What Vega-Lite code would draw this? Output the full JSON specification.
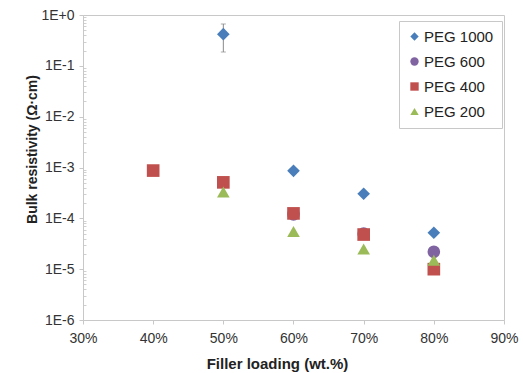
{
  "$schema": "https://vega.github.io/schema/vega-lite/v6.json",
  "width": 421,
  "height": 305,
  "autosize": {"type": "none"},
  "padding": {"left": 83, "top": 15, "right": 19, "bottom": 53},
  "background": "white",
  "config": {
    "font": "Liberation Sans",
    "view": {"stroke": "#c8c8c8", "strokeWidth": 1}
  },
  "datasets": {
    "pts": [
      {"load": 0.5, "res": 0.42, "series": "PEG 1000", "lo": 0.187, "hi": 0.665},
      {"load": 0.6, "res": 0.00086, "series": "PEG 1000"},
      {"load": 0.7, "res": 0.000304, "series": "PEG 1000"},
      {"load": 0.8, "res": 0.000052, "series": "PEG 1000"},
      {"load": 0.6, "res": 0.00012, "series": "PEG 600"},
      {"load": 0.7, "res": 0.00005, "series": "PEG 600"},
      {"load": 0.8, "res": 0.000022, "series": "PEG 600"},
      {"load": 0.4, "res": 0.00087, "series": "PEG 400", "lo": 0.00074, "hi": 0.00102},
      {"load": 0.5, "res": 0.00051, "series": "PEG 400"},
      {"load": 0.6, "res": 0.000125, "series": "PEG 400"},
      {"load": 0.7, "res": 0.000048, "series": "PEG 400"},
      {"load": 0.8, "res": 0.00001, "series": "PEG 400"},
      {"load": 0.5, "res": 0.00033, "series": "PEG 200"},
      {"load": 0.6, "res": 0.000055, "series": "PEG 200"},
      {"load": 0.7, "res": 0.000025, "series": "PEG 200"},
      {"load": 0.8, "res": 0.000015, "series": "PEG 200"}
    ]
  },
  "data": {"name": "pts"},
  "resolve": {"axis": {"y": "independent"}},
  "layer": [
    {
      "transform": [{"filter": "isValid(datum.lo)"}],
      "mark": {"type": "rule", "color": "#8a8a8a", "strokeWidth": 1},
      "encoding": {
        "x": {"field": "load", "type": "quantitative", "scale": {"domain": [0.3, 0.9]}},
        "y": {
          "field": "lo", "type": "quantitative",
          "scale": {"type": "log", "domain": [0.000001, 1]},
          "axis": {
            "orient": "left",
            "values": [2e-6,3e-6,4e-6,5e-6,6e-6,7e-6,8e-6,9e-6,2e-5,3e-5,4e-5,5e-5,6e-5,7e-5,8e-5,9e-5,2e-4,3e-4,4e-4,5e-4,6e-4,7e-4,8e-4,9e-4,2e-3,3e-3,4e-3,5e-3,6e-3,7e-3,8e-3,9e-3,2e-2,3e-2,4e-2,5e-2,6e-2,7e-2,8e-2,9e-2,0.2,0.3,0.4,0.5,0.6,0.7,0.8,0.9],
            "labels": false, "domain": false, "grid": false, "title": null,
            "tickSize": -3, "tickColor": "#d0d0d0", "tickWidth": 1
          }
        },
        "y2": {"field": "hi"}
      }
    },
    {
      "transform": [{"filter": "isValid(datum.lo)"}],
      "mark": {"type": "tick", "color": "#8a8a8a", "size": 5, "thickness": 1, "orient": "horizontal"},
      "encoding": {
        "x": {"field": "load", "type": "quantitative"},
        "y": {"field": "hi", "type": "quantitative", "axis": null}
      }
    },
    {
      "transform": [{"filter": "isValid(datum.lo)"}],
      "mark": {"type": "tick", "color": "#8a8a8a", "size": 5, "thickness": 1, "orient": "horizontal"},
      "encoding": {
        "x": {"field": "load", "type": "quantitative"},
        "y": {"field": "lo", "type": "quantitative", "axis": null}
      }
    },
    {
      "mark": {"type": "point", "filled": true, "opacity": 1, "size": 160},
      "encoding": {
        "x": {
          "field": "load", "type": "quantitative",
          "axis": {
            "values": [0.3, 0.4, 0.5, 0.6, 0.7, 0.8, 0.9],
            "format": ".0%",
            "title": "Filler loading (wt.%)",
            "titleFontSize": 15, "titleFontWeight": "bold", "titleColor": "#222",
            "titleX": 194, "titleY": 43, "titleBaseline": "middle",
            "labelFontSize": 14, "labelColor": "#333", "labelPadding": 7,
            "tickSize": 4, "tickColor": "#c8c8c8", "domainColor": "#c8c8c8",
            "grid": false, "labelFlush": false
          }
        },
        "y": {
          "field": "res", "type": "quantitative",
          "axis": {
            "orient": "left",
            "values": [0.000001, 0.00001, 0.0001, 0.001, 0.01, 0.1, 1],
            "labelExpr": "'1E' + (round(log(datum.value)/LN10) >= 0 ? '+' : '') + round(log(datum.value)/LN10)",
            "title": "Bulk resistivity (Ω·cm)",
            "titleFontSize": 14, "titleFontWeight": "bold", "titleColor": "#222",
            "titleX": -51, "titleY": 134, "titleBaseline": "middle", "titleAngle": -90, "titleAlign": "center",
            "labelFontSize": 14, "labelColor": "#333", "labelPadding": 5,
            "tickSize": 4, "tickColor": "#c8c8c8", "domainColor": "#c8c8c8",
            "grid": false, "labelFlush": false
          }
        },
        "color": {
          "field": "series", "type": "nominal",
          "scale": {"domain": ["PEG 1000", "PEG 600", "PEG 400", "PEG 200"], "range": ["#4a7ebb", "#8064a2", "#c0504d", "#9bbb59"]},
          "legend": {
            "orient": "none", "legendX": 316, "legendY": 6,
            "title": null, "labelFontSize": 15, "labelColor": "#222",
            "strokeColor": "#c8c8c8", "fillColor": "white", "padding": 8,
            "rowPadding": 9, "symbolSize": 70, "labelOffset": 2, "symbolOpacity": 1
          }
        },
        "shape": {
          "field": "series", "type": "nominal",
          "scale": {"domain": ["PEG 1000", "PEG 600", "PEG 400", "PEG 200"], "range": ["diamond", "circle", "square", "triangle-up"]}
        }
      }
    }
  ]
}
